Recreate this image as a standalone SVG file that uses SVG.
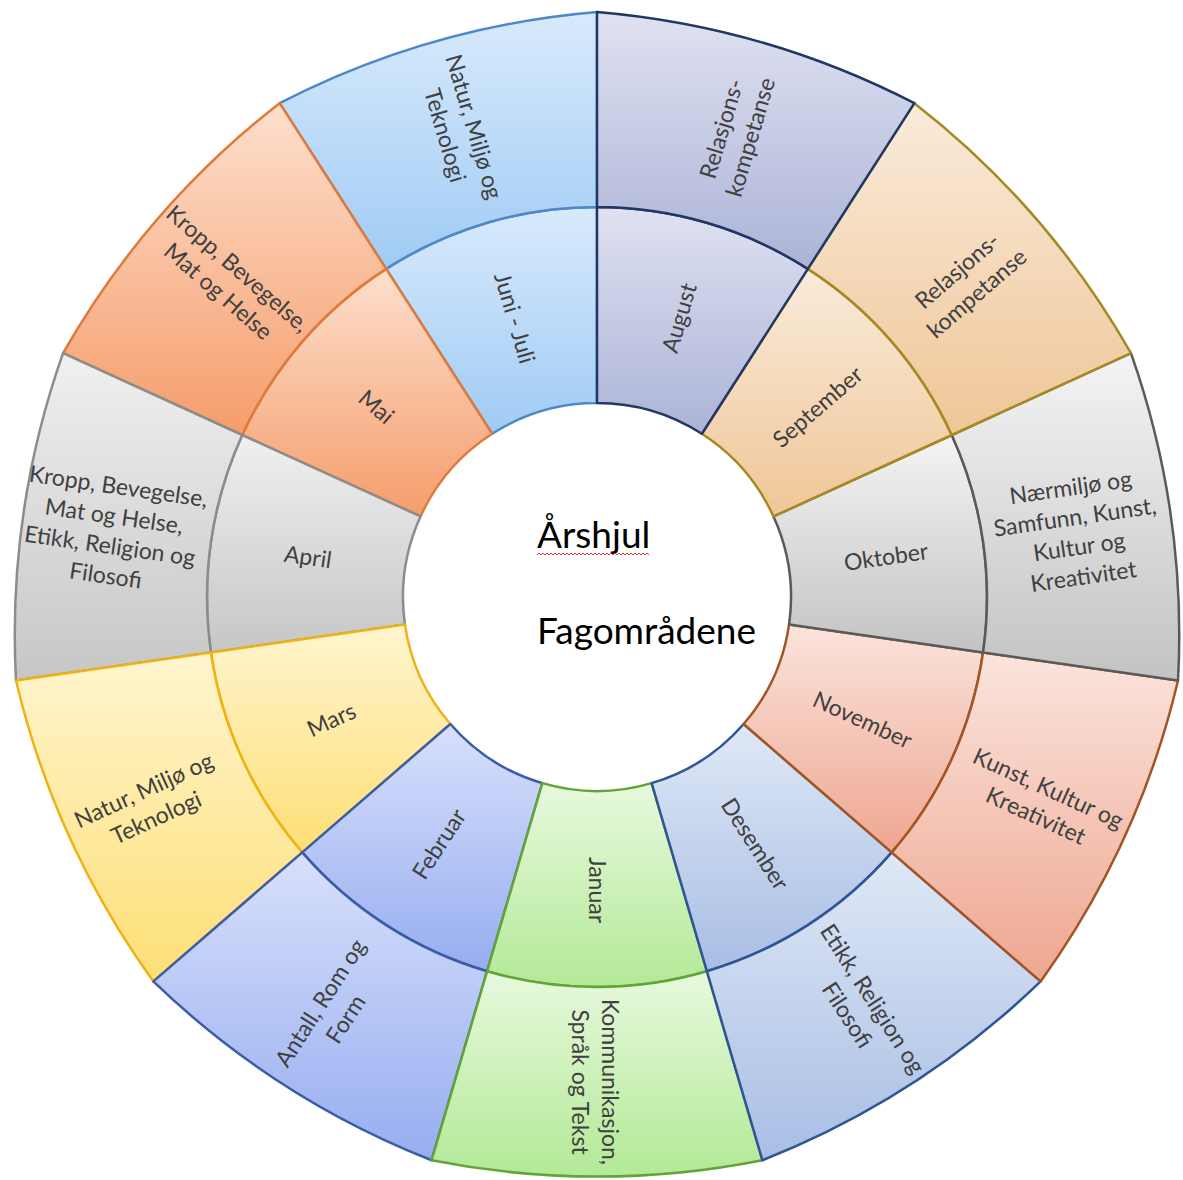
<svg xmlns="http://www.w3.org/2000/svg" width="1183" height="1180" viewBox="0 0 1183 1180">
<style>
.seg{stroke-width:2.5;stroke-linejoin:round}
.t{font-family:Lato,"Liberation Sans",sans-serif;font-size:23px;fill:#404040;text-anchor:middle}
.c{font-family:Lato,"Liberation Sans",sans-serif;font-size:37px;fill:#000}
.jun{fill:url(#gJun);stroke:#4f88c6}
.aug{fill:url(#gAug);stroke:#1f3864}
.sep{fill:url(#gSep);stroke:#a58a22}
.okt{fill:url(#gOkt);stroke:#5a5a5a}
.nov{fill:url(#gNov);stroke:#a35524}
.des{fill:url(#gDes);stroke:#2f5597}
.jan{fill:url(#gJan);stroke:#63a43a}
.feb{fill:url(#gFeb);stroke:#3b5ca6}
.mar{fill:url(#gMar);stroke:#eeb312}
.apr{fill:url(#gApr);stroke:#8c8c8c}
.mai{fill:url(#gMai);stroke:#e07a3a}
</style>
<defs>
<linearGradient id="gJun" x1="0" y1="0" x2="0" y2="1"><stop offset="0" stop-color="#d8eafc"/><stop offset="1" stop-color="#a0cbf4"/></linearGradient>
<linearGradient id="gAug" x1="0" y1="0" x2="0" y2="1"><stop offset="0" stop-color="#e0e2f2"/><stop offset="1" stop-color="#abb3d6"/></linearGradient>
<linearGradient id="gSep" x1="0" y1="0" x2="0" y2="1"><stop offset="0" stop-color="#faebdb"/><stop offset="1" stop-color="#efc697"/></linearGradient>
<linearGradient id="gOkt" x1="0" y1="0" x2="0" y2="1"><stop offset="0" stop-color="#f4f4f4"/><stop offset="1" stop-color="#c3c3c3"/></linearGradient>
<linearGradient id="gNov" x1="0" y1="0" x2="0" y2="1"><stop offset="0" stop-color="#fbe4dd"/><stop offset="1" stop-color="#eea690"/></linearGradient>
<linearGradient id="gDes" x1="0" y1="0" x2="0" y2="1"><stop offset="0" stop-color="#dfe8f6"/><stop offset="1" stop-color="#a8bee4"/></linearGradient>
<linearGradient id="gJan" x1="0" y1="0" x2="0" y2="1"><stop offset="0" stop-color="#e8f9de"/><stop offset="1" stop-color="#b3e996"/></linearGradient>
<linearGradient id="gFeb" x1="0" y1="0" x2="0" y2="1"><stop offset="0" stop-color="#d8e0fb"/><stop offset="1" stop-color="#96adf0"/></linearGradient>
<linearGradient id="gMar" x1="0" y1="0" x2="0" y2="1"><stop offset="0" stop-color="#fff5cf"/><stop offset="1" stop-color="#fddf76"/></linearGradient>
<linearGradient id="gApr" x1="0" y1="0" x2="0" y2="1"><stop offset="0" stop-color="#f0f0f0"/><stop offset="1" stop-color="#c6c6c6"/></linearGradient>
<linearGradient id="gMai" x1="0" y1="0" x2="0" y2="1"><stop offset="0" stop-color="#fddfcd"/><stop offset="1" stop-color="#f59d6b"/></linearGradient>
</defs>
<rect width="1183" height="1180" fill="#fff"/>

<g id="juni-juli">
<path class="seg jun" d="M492.12,433.80 L386.15,268.91 A390,390 0 0 1 597,207 L597,403 A194,194 0 0 0 492.12,433.80 Z"/>
<path class="seg jun" d="M386.15,268.91 L279.64,103.19 A850,850 0 0 1 597,12 L597,207 A390,390 0 0 0 386.15,268.91 Z"/>
<text class="t" transform="translate(514.7,318) rotate(73.64)"><tspan x="0" dy="8">Juni - Juli</tspan></text>
<text class="t" transform="translate(459.5,131) rotate(73.64)"><tspan x="0" dy="-7">Natur, Miljø og</tspan><tspan x="0" dy="30">Teknologi</tspan></text>
</g>

<g id="mai">
<path class="seg mai" d="M420.53,516.41 L242.24,434.99 A390,390 0 0 1 386.15,268.91 L492.12,433.80 A194,194 0 0 0 420.53,516.41 Z"/>
<path class="seg mai" d="M242.24,434.99 L63.05,353.15 A850,850 0 0 1 279.64,103.19 L386.15,268.91 A390,390 0 0 0 242.24,434.99 Z"/>
<text class="t" transform="translate(376.3,407) rotate(40.91)"><tspan x="0" dy="8">Mai</tspan></text>
<text class="t" transform="translate(228,280) rotate(40.91)"><tspan x="0" dy="-7">Kropp, Bevegelse,</tspan><tspan x="0" dy="30">Mat og Helse</tspan></text>
</g>

<g id="april">
<path class="seg apr" d="M404.97,624.61 L210.97,652.50 A390,390 0 0 1 242.24,434.99 L420.53,516.41 A194,194 0 0 0 404.97,624.61 Z"/>
<path class="seg apr" d="M210.97,652.50 L15.98,680.54 A850,850 0 0 1 63.05,353.15 L242.24,434.99 A390,390 0 0 0 210.97,652.50 Z"/>
<text class="t" transform="translate(308,557) rotate(8.18)"><tspan x="0" dy="8">April</tspan></text>
<text class="t" transform="translate(112,531) rotate(8.18)"><tspan x="0" dy="-37">Kropp, Bevegelse,</tspan><tspan x="0" dy="30">Mat og Helse,</tspan><tspan x="0" dy="30">Etikk, Religion og</tspan><tspan x="0" dy="30">Filosofi</tspan></text>
</g>

<g id="mars">
<path class="seg mar" d="M450.38,724.04 L302.26,852.40 A390,390 0 0 1 210.97,652.50 L404.97,624.61 A194,194 0 0 0 450.38,724.04 Z"/>
<path class="seg mar" d="M302.26,852.40 L153.37,981.40 A850,850 0 0 1 15.98,680.54 L210.97,652.50 A390,390 0 0 0 302.26,852.40 Z"/>
<text class="t" transform="translate(331.4,720) rotate(-24.55)"><tspan x="0" dy="8">Mars</tspan></text>
<text class="t" transform="translate(150,804) rotate(-24.55)"><tspan x="0" dy="-7">Natur, Miljø og</tspan><tspan x="0" dy="30">Teknologi</tspan></text>
</g>

<g id="februar">
<path class="seg feb" d="M542.34,783.14 L487.13,971.20 A390,390 0 0 1 302.26,852.40 L450.38,724.04 A194,194 0 0 0 542.34,783.14 Z"/>
<path class="seg feb" d="M487.13,971.20 L431.62,1160.22 A850,850 0 0 1 153.37,981.40 L302.26,852.40 A390,390 0 0 0 487.13,971.20 Z"/>
<text class="t" transform="translate(439.1,844) rotate(-57.27)"><tspan x="0" dy="8">Februar</tspan></text>
<text class="t" transform="translate(333,1011) rotate(-57.27)"><tspan x="0" dy="-7">Antall, Rom og</tspan><tspan x="0" dy="30">Form</tspan></text>
</g>

<g id="januar">
<path class="seg jan" d="M651.66,783.14 L706.87,971.20 A390,390 0 0 1 487.13,971.20 L542.34,783.14 A194,194 0 0 0 651.66,783.14 Z"/>
<path class="seg jan" d="M706.87,971.20 L762.38,1160.22 A850,850 0 0 1 431.62,1160.22 L487.13,971.20 A390,390 0 0 0 706.87,971.20 Z"/>
<text class="t" transform="translate(597,890) rotate(90)"><tspan x="0" dy="8">Januar</tspan></text>
<text class="t" transform="translate(595,1082) rotate(90)"><tspan x="0" dy="-7">Kommunikasjon,</tspan><tspan x="0" dy="30">Språk og Tekst</tspan></text>
</g>

<g id="desember">
<path class="seg des" d="M743.62,724.04 L891.74,852.40 A390,390 0 0 1 706.87,971.20 L651.66,783.14 A194,194 0 0 0 743.62,724.04 Z"/>
<path class="seg des" d="M891.74,852.40 L1040.63,981.40 A850,850 0 0 1 762.38,1160.22 L706.87,971.20 A390,390 0 0 0 891.74,852.40 Z"/>
<text class="t" transform="translate(754.9,844) rotate(57.27)"><tspan x="0" dy="8">Desember</tspan></text>
<text class="t" transform="translate(860,1007) rotate(57.27)"><tspan x="0" dy="-7">Etikk, Religion og</tspan><tspan x="0" dy="30">Filosofi</tspan></text>
</g>

<g id="november">
<path class="seg nov" d="M789.03,624.61 L983.03,652.50 A390,390 0 0 1 891.74,852.40 L743.62,724.04 A194,194 0 0 0 789.03,624.61 Z"/>
<path class="seg nov" d="M983.03,652.50 L1178.02,680.54 A850,850 0 0 1 1040.63,981.40 L891.74,852.40 A390,390 0 0 0 983.03,652.50 Z"/>
<text class="t" transform="translate(862.6,720) rotate(24.55)"><tspan x="0" dy="8">November</tspan></text>
<text class="t" transform="translate(1042,802) rotate(24.55)"><tspan x="0" dy="-7">Kunst, Kultur og</tspan><tspan x="0" dy="30">Kreativitet</tspan></text>
</g>

<g id="oktober">
<path class="seg okt" d="M773.47,516.41 L951.76,434.99 A390,390 0 0 1 983.03,652.50 L789.03,624.61 A194,194 0 0 0 773.47,516.41 Z"/>
<path class="seg okt" d="M951.76,434.99 L1130.95,353.15 A850,850 0 0 1 1178.02,680.54 L983.03,652.50 A390,390 0 0 0 951.76,434.99 Z"/>
<text class="t" transform="translate(886,557) rotate(-8.18)"><tspan x="0" dy="8">Oktober</tspan></text>
<text class="t" transform="translate(1077,532) rotate(-8.18)"><tspan x="0" dy="-37">Nærmiljø og</tspan><tspan x="0" dy="30">Samfunn, Kunst,</tspan><tspan x="0" dy="30">Kultur og</tspan><tspan x="0" dy="30">Kreativitet</tspan></text>
</g>

<g id="september">
<path class="seg sep" d="M701.88,433.80 L807.85,268.91 A390,390 0 0 1 951.76,434.99 L773.47,516.41 A194,194 0 0 0 701.88,433.80 Z"/>
<path class="seg sep" d="M807.85,268.91 L914.36,103.19 A850,850 0 0 1 1130.95,353.15 L951.76,434.99 A390,390 0 0 0 807.85,268.91 Z"/>
<text class="t" transform="translate(817.7,407) rotate(-40.91)"><tspan x="0" dy="8">September</tspan></text>
<text class="t" transform="translate(967,282) rotate(-40.91)"><tspan x="0" dy="-7">Relasjons-</tspan><tspan x="0" dy="30">kompetanse</tspan></text>
</g>

<g id="august">
<path class="seg aug" d="M597,403 L597,207 A390,390 0 0 1 807.85,268.91 L701.88,433.80 A194,194 0 0 0 597,403 Z"/>
<path class="seg aug" d="M597,207 L597,12 A850,850 0 0 1 914.36,103.19 L807.85,268.91 A390,390 0 0 0 597,207 Z"/>
<text class="t" transform="translate(679.3,318) rotate(-73.64)"><tspan x="0" dy="8">August</tspan></text>
<text class="t" transform="translate(736,133) rotate(-73.64)"><tspan x="0" dy="-7">Relasjons-</tspan><tspan x="0" dy="30">kompetanse</tspan></text>
</g>

<g id="connectors"/>

<g id="center">
<text class="c" x="537" y="548">Årshjul</text>
<path d="M537,555 l2,-2 2,2 2,-2 2,2 2,-2 2,2 2,-2 2,2 2,-2 2,2 2,-2 2,2 2,-2 2,2 2,-2 2,2 2,-2 2,2 2,-2 2,2 2,-2 2,2 2,-2 2,2 2,-2 2,2 2,-2 2,2 2,-2 2,2 2,-2 2,2 2,-2 2,2 2,-2 2,2 2,-2 2,2 2,-2 2,2 2,-2 2,2 2,-2 2,2 2,-2 2,2 2,-2 2,2 2,-2 2,2 2,-2 2,2 2,-2 2,2 2,-2 2,2" fill="none" stroke="#e03a3a" stroke-width="1"/>
<text class="c" x="537" y="644">Fagområdene</text>
</g>
</svg>
